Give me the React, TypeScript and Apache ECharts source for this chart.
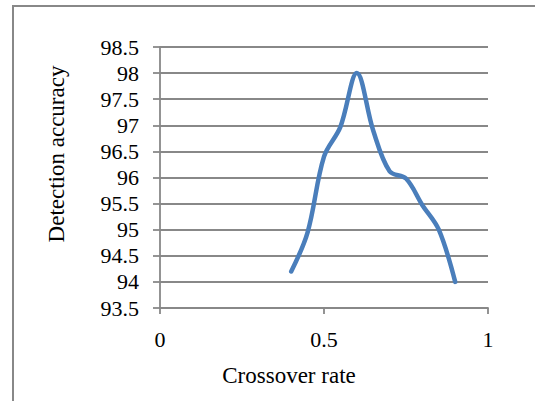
import React, { useEffect, useRef } from "react";
import * as echarts from "echarts";

const crossoverRates = [0.4, 0.45, 0.5, 0.55, 0.6, 0.65, 0.7, 0.75, 0.8, 0.85, 0.9];
const detectionAccuracy = [94.2, 94.95, 96.4, 96.97, 98.0, 96.9, 96.12, 95.98, 95.47, 95.0, 94.0];
const xAxisTitle = "Crossover rate";
const yAxisTitle = "Detection accuracy";

const FONT = "'Liberation Serif', 'Times New Roman', serif";
const GRAY = "#888888";

export default function App() {
  const ref = useRef<HTMLDivElement>(null);
  useEffect(() => {
    if (!ref.current) return;
    const chart = echarts.init(ref.current, undefined, { renderer: "svg" });
    const labelRich = {
      s: { fontFamily: FONT, fontSize: 22, color: "#000" },
    };
    chart.setOption({
      animation: false,
      backgroundColor: "#ffffff",
      textStyle: { fontFamily: FONT },
      grid: { left: 160, right: 47, top: 47, bottom: 93, containLabel: false },
      xAxis: {
        type: "value",
        min: 0,
        max: 1,
        interval: 0.5,
        axisLine: { show: true, lineStyle: { color: GRAY, width: 1.8 } },
        axisTick: { show: true, length: 6, lineStyle: { color: GRAY, width: 1.8 } },
        splitLine: { show: false },
        axisLabel: {
          color: "#000",
          fontFamily: FONT,
          fontSize: 22,
          margin: 20,
          formatter: (v: number) => `{s|${v}}`,
          rich: labelRich,
        },
      },
      yAxis: {
        type: "value",
        min: 93.5,
        max: 98.5,
        interval: 0.5,
        axisLine: { show: true, lineStyle: { color: GRAY, width: 1.8 } },
        axisTick: { show: true, length: 7, lineStyle: { color: GRAY, width: 1.8 } },
        splitLine: { show: true, lineStyle: { color: GRAY, width: 1.8 } },
        axisLabel: {
          color: "#000",
          fontFamily: FONT,
          fontSize: 22,
          margin: 21,
          formatter: (v: number) => `{s|${v}}`,
          rich: labelRich,
        },
      },
      series: [
        {
          type: "line",
          data: crossoverRates.map((x, i) => [x, detectionAccuracy[i]]),
          smooth: 0.35,
          symbol: "none",
          lineStyle: { color: "#4a7ebb", width: 4.5, cap: "round", join: "round" },
        },
      ],
      graphic: [
        {
          type: "rect",
          shape: { x: 13, y: 6, width: 560, height: 420 },
          style: { fill: "none", stroke: GRAY, lineWidth: 2 },
          silent: true,
        },
        {
          type: "text",
          x: 289,
          y: 375,
          style: {
            text: xAxisTitle,
            fontFamily: FONT,
            fontSize: 23,
            fill: "#000",
            align: "center",
            verticalAlign: "middle",
          },
        },
        {
          type: "text",
          x: 56,
          y: 154,
          rotation: Math.PI / 2,
          style: {
            text: yAxisTitle,
            fontFamily: FONT,
            fontSize: 23,
            fill: "#000",
            align: "center",
            verticalAlign: "middle",
          },
        },
      ],
    });
    return () => chart.dispose();
  }, []);
  return (
    <div
      ref={ref}
      style={{ position: "absolute", left: 0, top: 0, width: 535, height: 401 }}
    />
  );
}
